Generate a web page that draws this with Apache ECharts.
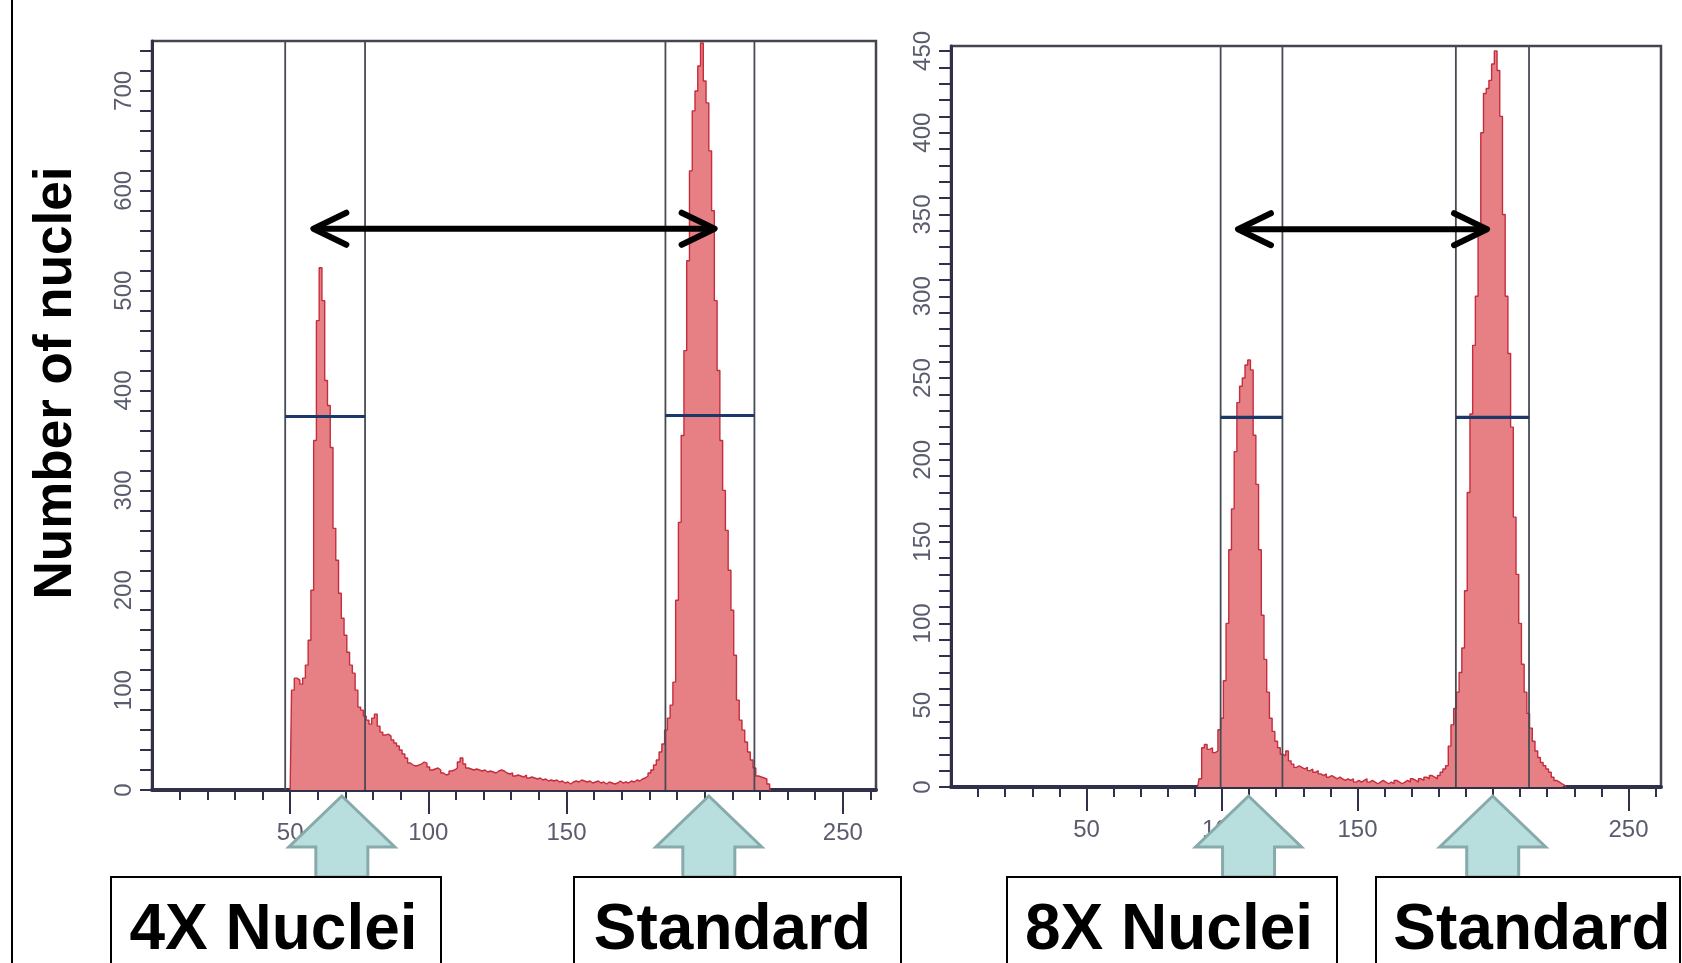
<!DOCTYPE html>
<html>
<head>
<meta charset="utf-8">
<title>Nuclei histograms</title>
<script src="https://cdn.jsdelivr.net/npm/echarts@6/dist/echarts.min.js"></script>
<style>
  html, body { margin: 0; padding: 0; background: #fff; }
  #chart { width: 1682px; height: 963px; }
</style>
</head>
<body>
<div id="chart"></div>
<script>
// channel axis of both histograms
var channelMax = 262;
var xLabelValues = [50, 100, 150, 200, 250];
var xMinorValues = [10, 20, 30, 40, 60, 70, 80, 90, 110, 120, 130, 140, 160, 170, 180, 190, 210, 220, 230, 240, 260];

// left panel: 4X nuclei + standard, one count per channel from leftStart
var leftStart = 50;
var leftCounts = [
  0, 100, 112, 110, 106, 112, 125, 150, 200, 350,
  470, 523, 490, 410, 385, 343, 262, 230, 197, 172,
  155, 138, 125, 117, 100, 83, 80, 74, 70, 66,
  72, 76, 64, 58, 55, 56, 54, 50, 47, 44,
  40, 36, 32, 27, 25, 24, 25, 26, 28, 27,
  23, 20, 21, 22, 20, 17, 15, 16, 19, 20,
  22, 28, 32, 26, 22, 21, 20, 21, 20, 19,
  20, 18, 19, 18, 17, 19, 20, 19, 17, 16,
  17, 14, 15, 14, 13, 15, 12, 13, 12, 11,
  12, 10, 11, 9, 10, 9, 10, 8, 9, 7,
  8, 6, 8, 9, 8, 10, 9, 8, 9, 7,
  8, 9, 7, 8, 6, 8, 7, 6, 7, 9,
  7, 8, 7, 9, 8, 10, 9, 11, 12, 14,
  17, 20, 25, 30, 38, 46, 60, 72, 85, 108,
  190, 268, 355, 440, 530, 620, 680, 700, 725, 748,
  710, 688, 640, 580, 490, 420, 350, 300, 260, 220,
  180, 135, 90, 70, 60, 48, 38, 30, 22, 14,
  13, 12, 11, 6, 0
];
var leftYMax = 750;
var leftYTicks = [0, 20, 40, 60, 80, 100, 120, 140, 160, 180, 200, 220, 240, 260, 280, 300, 320, 340, 360, 380,
  400, 420, 440, 460, 480, 500, 520, 540, 560, 580, 600, 620, 640, 660, 680, 700, 720, 740];
var leftYLabels = [0, 100, 200, 300, 400, 500, 600, 700];
// gates: [from channel, to channel, half-max level]
var leftGates = [[48.2, 77.1, 374], [185.8, 218.0, 375]];

// right panel: 8X nuclei + standard
var rightStart = 91;
var rightCounts = [
  0, 5, 24, 26, 23, 24, 21, 22, 35, 42,
  65, 100, 145, 170, 205, 235, 245, 250, 258, 261,
  255, 215, 185, 145, 105, 78, 58, 42, 34, 28,
  24, 20, 19, 22, 16, 14, 12, 13, 12, 11,
  12, 10, 11, 9, 10, 8, 7, 8, 6, 7,
  6, 5, 6, 5, 4, 5, 4, 5, 3, 4,
  3, 4, 5, 3, 4, 3, 2, 3, 4, 3,
  2, 3, 2, 4, 3, 2, 3, 4, 3, 5,
  4, 3, 5, 4, 6, 5, 7, 6, 5, 7,
  9, 11, 13, 25, 38, 48, 58, 70, 85, 120,
  180, 228, 270, 300, 340, 400, 424, 427, 432, 442,
  450, 438, 410, 350, 300, 265, 220, 165, 130, 100,
  75, 58, 45, 36, 28, 22, 18, 15, 13, 11,
  9, 6, 4, 3, 2, 1, 0
];
var rightYMax = 453;
var rightYTicks = [0, 10, 20, 30, 40, 50, 60, 70, 80, 90, 100, 110, 120, 130, 140, 150, 160, 170, 180, 190,
  200, 210, 220, 230, 240, 250, 260, 270, 280, 290, 300, 310, 320, 330, 340, 350, 360, 370, 380, 390,
  400, 410, 420, 430, 440, 450];
var rightYLabels = [0, 50, 100, 150, 200, 250, 300, 350, 400, 450];
var rightGates = [[99.5, 122.3, 226], [186.3, 213.3, 226]];

// annotations, in data units: double arrow [from, to, level], up arrows at peak channels
var leftSpan = [58.4, 203.6, 562];
var rightSpan = [105.9, 197.8, 341];
var leftPeaks = [68.7, 201.5];
var rightPeaks = [109.8, 199.9];
var boxTexts = ['4X Nuclei', 'Standard', '8X Nuclei', 'Standard'];

var histFill = '#e68084';
var histLine = '#c42d3e';
var axisColor = '#30304a';
var labelColor = '#5a5c6e';

function pairs(start, counts) {
  return counts.map(function (c, i) { return [start + i, c]; });
}

function histSeries(xi, yi, start, counts) {
  return {
    type: 'line', xAxisIndex: xi, yAxisIndex: yi, step: 'middle', symbol: 'none',
    data: pairs(start, counts), silent: true, z: 2,
    lineStyle: { color: histLine, width: 1.4 },
    areaStyle: { color: histFill, opacity: 1 }
  };
}

function gateSeries(xi, yi, gates, ymax) {
  var out = [];
  gates.forEach(function (g) {
    [g[0], g[1]].forEach(function (x) {
      out.push({
        type: 'line', xAxisIndex: xi, yAxisIndex: yi, symbol: 'none', silent: true, z: 3,
        data: [[x, 0], [x, ymax]],
        lineStyle: { color: '#474b54', width: 1.8 }
      });
    });
    out.push({
      type: 'line', xAxisIndex: xi, yAxisIndex: yi, symbol: 'none', silent: true, z: 4,
      data: [[g[0], g[2]], [g[1], g[2]]],
      lineStyle: { color: '#1c3868', width: 3.2 }
    });
  });
  return out;
}

function mainX(grid) {
  return {
    type: 'value', gridIndex: grid, min: 0, max: channelMax, position: 'bottom',
    splitLine: { show: false },
    axisLine: { show: true, onZero: false, lineStyle: { color: axisColor, width: 4 } },
    axisTick: { show: true, customValues: xLabelValues, length: 24, lineStyle: { color: axisColor, width: 2 } },
    axisLabel: {
      customValues: xLabelValues, margin: 31, color: labelColor,
      fontFamily: 'Liberation Sans', fontSize: 24
    }
  };
}

function minorX(grid) {
  return {
    type: 'value', gridIndex: grid, min: 0, max: channelMax, position: 'bottom',
    splitLine: { show: false },
    axisLine: { show: false },
    axisTick: { show: true, customValues: xMinorValues, length: 10, lineStyle: { color: axisColor, width: 2 } },
    axisLabel: { show: false }
  };
}

function yAxis(grid, ymax, ticks, labels) {
  return {
    type: 'value', gridIndex: grid, min: 0, max: ymax,
    splitLine: { show: false },
    axisLine: { show: true, lineStyle: { color: axisColor, width: 3 } },
    axisTick: { show: true, customValues: ticks, length: 12, lineStyle: { color: axisColor, width: 2 } },
    axisLabel: {
      customValues: labels, rotate: 90, margin: 16, color: labelColor,
      fontFamily: 'Liberation Sans', fontSize: 24
    }
  };
}

var chart = echarts.init(document.getElementById('chart'), null, { renderer: 'canvas' });

chart.setOption({
  animation: false,
  backgroundColor: '#fff',
  grid: [
    { left: 152, top: 41, width: 724, height: 749, show: true, borderColor: '#45454f', borderWidth: 2.5, backgroundColor: 'transparent' },
    { left: 951, top: 46, width: 710, height: 741, show: true, borderColor: '#45454f', borderWidth: 2.5, backgroundColor: 'transparent' }
  ],
  xAxis: [mainX(0), minorX(0), mainX(1), minorX(1)],
  yAxis: [yAxis(0, leftYMax, leftYTicks, leftYLabels), yAxis(1, rightYMax, rightYTicks, rightYLabels)],
  series: [histSeries(0, 0, leftStart, leftCounts), histSeries(2, 1, rightStart, rightCounts)]
    .concat(gateSeries(0, 0, leftGates, leftYMax))
    .concat(gateSeries(2, 1, rightGates, rightYMax))
});

// annotations placed from data coordinates
function px(xi, v) { return chart.convertToPixel({ xAxisIndex: xi }, v); }
function py(yi, v) { return chart.convertToPixel({ yAxisIndex: yi }, v); }

var tipY = 796, headY = 847, boxTop = 877;
var boxes = [[111, 441, 273.5], [574, 901, 732.5], [1007, 1337, 1169], [1376, 1680, 1532]];

function upArrow(x) {
  return {
    type: 'polygon', z: 100,
    shape: { points: [[x, tipY], [x + 53, headY], [x + 26, headY], [x + 26, boxTop], [x - 26, boxTop], [x - 26, headY], [x - 53, headY]] },
    style: { fill: '#b8dede', stroke: '#88aaaa', lineWidth: 3 }
  };
}

function doubleArrow(x1, x2, y) {
  var st = { stroke: '#000', lineWidth: 6, lineCap: 'round', lineJoin: 'round', fill: null };
  return [
    { type: 'polyline', z: 100, shape: { points: [[x1 + 2, y], [x2 - 2, y]] }, style: st },
    { type: 'polyline', z: 100, shape: { points: [[x1 + 33, y - 16], [x1, y], [x1 + 33, y + 16]] }, style: st },
    { type: 'polyline', z: 100, shape: { points: [[x2 - 33, y - 16], [x2, y], [x2 - 33, y + 16]] }, style: st }
  ];
}

var g = [];
g.push({ type: 'line', z: 100, shape: { x1: 12, y1: 0, x2: 12, y2: 963 }, style: { stroke: '#000', lineWidth: 2 } });
g.push({
  type: 'text', z: 100, x: 56, y: 383, rotation: Math.PI / 2,
  style: {
    text: 'Number of nuclei', font: 'bold 53px "Liberation Sans", Arial, sans-serif', fill: '#000',
    align: 'center', verticalAlign: 'middle', textAlign: 'center', textVerticalAlign: 'middle'
  }
});
g = g.concat(doubleArrow(px(0, leftSpan[0]), px(0, leftSpan[1]), py(0, leftSpan[2])));
g = g.concat(doubleArrow(px(2, rightSpan[0]), px(2, rightSpan[1]), py(1, rightSpan[2])));
leftPeaks.forEach(function (p) { g.push(upArrow(px(0, p))); });
rightPeaks.forEach(function (p) { g.push(upArrow(px(2, p))); });
boxes.forEach(function (b, i) {
  g.push({
    type: 'rect', z: 101,
    shape: { x: b[0], y: boxTop, width: b[1] - b[0], height: 120 },
    style: { fill: '#fff', stroke: '#000', lineWidth: 2 }
  });
  g.push({
    type: 'text', z: 102, x: b[2], y: 931,
    style: {
      text: boxTexts[i], font: 'bold 64px "Liberation Sans", Arial, sans-serif', fill: '#000',
      align: 'center', verticalAlign: 'middle', textAlign: 'center', textVerticalAlign: 'middle'
    }
  });
});

chart.setOption({ graphic: g });
</script>
</body>
</html>
